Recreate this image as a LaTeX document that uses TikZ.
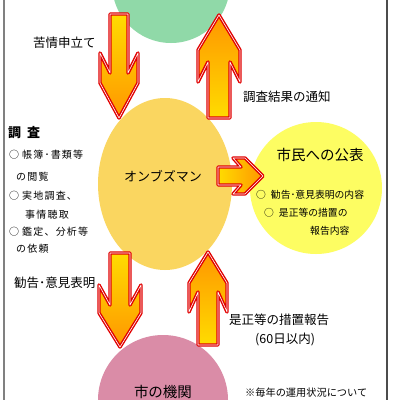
\documentclass[tikz,border=0pt]{standalone}
\usepackage{fontspec}
\usetikzlibrary{shapes.geometric}
\newfontfamily\jp{Noto Sans CJK JP}
\newfontfamily\jpsp[LetterSpace=12]{Noto Sans CJK JP}
\definecolor{cgreen}{HTML}{90D9A8}
\definecolor{comb}{HTML}{FAD660}
\definecolor{cyel}{HTML}{FDFD62}
\definecolor{cpink}{HTML}{DA8CA7}
\definecolor{ayel}{RGB}{255,220,0}
\definecolor{aora}{RGB}{255,150,0}
\definecolor{ared}{RGB}{225,0,0}
\tikzset{
  arrowline/.style={draw=ared, double=white, double distance=0.6pt, line width=1.4pt, line join=round},
  downshade/.style={top color=ayel, bottom color=aora},
  upshade/.style={top color=aora, bottom color=ayel},
  lab/.style={font=\jp\fontsize{12.5}{14}\selectfont, inner sep=0pt, anchor=west},
  small/.style={font=\jpsp\fontsize{10}{12}\selectfont, inner sep=0pt, anchor=west},
  big/.style={font=\jp\fontsize{14.5}{16}\selectfont, inner sep=0pt},
}
\newcommand{\VArr}[9]{%
  \pgfmathsetmacro{\dd}{ifthenelse(#3>#2,1,-1)}%
  \pgfmathsetmacro{\yn}{#3-\dd*(#6-#8)}%
  \pgfmathsetmacro{\yb}{#3-\dd*#6}%
  \pgfmathsetmacro{\ye}{#3-\dd*(#6-#7)}%
  \draw[arrowline,#9] (#1-#4,#2) -- (#1+#4,#2) -- (#1+#4,\yn) -- (#1+#5,\yb) -- (#1+#5,\ye) -- (#1,#3) -- (#1-#5,\ye) -- (#1-#5,\yb) -- (#1-#4,\yn) -- cycle;}
\begin{document}
\begin{tikzpicture}[x=1pt,y=-1pt]
\useasboundingbox (0,0) rectangle (400,400);
\fill[white] (0,0) rectangle (400,400);
\begin{scope}
\clip (0,0) rectangle (400,400);
\node[circle, fill=cgreen, minimum size=118pt, inner sep=0pt] (green) at (171,-16) {};
\node[ellipse, fill=comb, minimum width=134pt, minimum height=172pt, inner sep=0pt] (omb) at (165,184) {};
\node[circle, fill=cyel, minimum size=132pt, inner sep=0pt] (pub) at (316,188) {};
\node[circle, fill=cpink, minimum size=130pt, inner sep=0pt] (city) at (163,400) {};
\end{scope}
\draw[gray, line width=1.2pt] (4,0) -- (4,400);
\draw[black!70, line width=1.2pt] (387,0) -- (387,400);
% arrows
\VArr{119}{14}{118}{9}{19}{65}{30}{20}{downshade}
\VArr{219}{118}{15}{11}{21}{67}{32}{20}{upshade}
\VArr{120}{253}{347}{10}{21}{62}{28}{20}{downshade}
\VArr{208}{345}{252}{10}{19}{60}{29}{20}{upshade}
\draw[arrowline, left color=ayel, right color=aora] (218,167) -- (241,167) -- (233,158) -- (245,158) -- (263,176) -- (245,194) -- (233,194) -- (241,185) -- (218,185) -- cycle;
% texts
\node[lab] (t1) at (33,43) {苦情申立て};
\node[lab] (t2) at (243,97) {調査結果の通知};
\node[lab, font=\jp\bfseries\fontsize{13}{15}\selectfont] (t3) at (8,133) {調\hspace{6pt}査};
\node[small] (s1) at (9,155) {○\hspace{3pt}帳簿･書類等};
\node[small] (s2) at (16,177) {の閲覧};
\node[small] (s3) at (9,196) {○\hspace{3pt}実地調査、};
\node[small] (s4) at (25,215) {事情聴取};
\node[small] (s5) at (9,232) {○\hspace{3pt}鑑定、分析等};
\node[small] (s6) at (16,249) {の依頼};
\node[inner sep=0pt, font=\jp\fontsize{13}{15}\selectfont] (tomb) at (163,176) {オンブズマン};
\node[big] (tpub) at (320,155) {市民への公表};
\node[small, font=\jp\fontsize{9.8}{12}\selectfont] (p1) at (256,195) {○\hspace{5pt}勧告･意見表明の内容};
\node[small, font=\jp\fontsize{9.8}{12}\selectfont] (p2) at (264,213) {○\hspace{5pt}是正等の措置の};
\node[small, font=\jp\fontsize{9.8}{12}\selectfont] (p3) at (310,231) {報告内容};
\node[lab] (t4) at (14,283) {勧告･意見表明};
\node[lab] (t5) at (229,320) {是正等の措置報告};
\node[lab] (t6) at (255,339) {(60日以内)};
\node[small, font=\jp\fontsize{10.2}{12}\selectfont] (t7) at (245,393) {※毎年の運用状況について};
\node[big] (tcity) at (163,392) {市の機関};
\end{tikzpicture}
\end{document}
